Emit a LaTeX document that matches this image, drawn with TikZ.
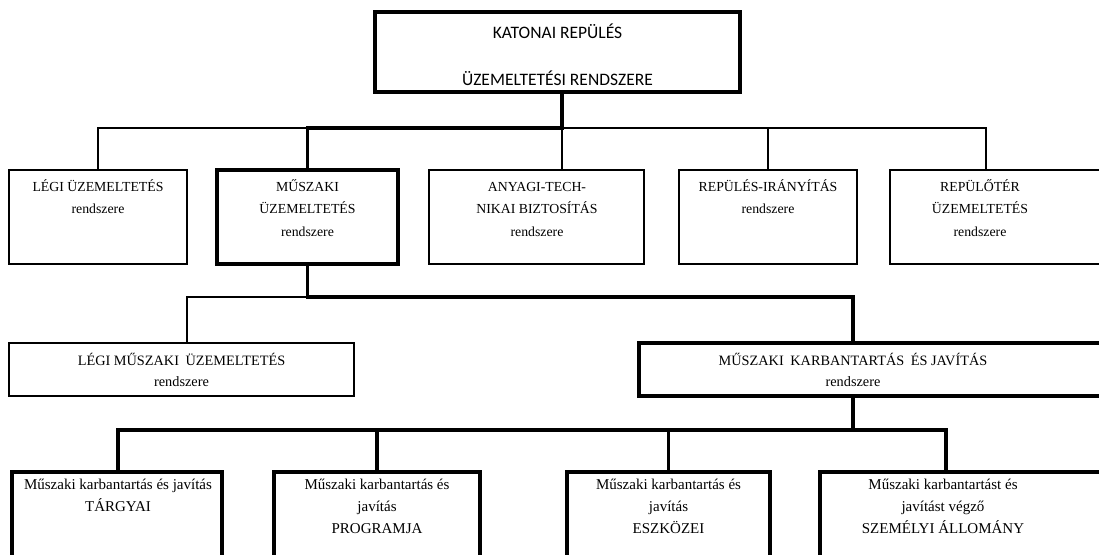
\documentclass[tikz,border=0pt]{standalone}
\usepackage{fontspec}
\setmainfont{Liberation Serif}
\newfontfamily\calibrifont{Carlito}
\begin{document}
\begin{tikzpicture}[x=1pt,y=-1pt,
  thinline/.style={line width=1.2pt},
  thickline/.style={line width=3.8pt},
  thinbox/.style={draw,thinline,inner sep=0pt,outer sep=0pt},
  thickbox/.style={draw,thickline,inner sep=0pt,outer sep=0pt},
  toptxt/.style={align=center,anchor=base,inner sep=0pt,font=\calibrifont\fontsize{17.5}{47}\selectfont},
  rowtwo/.style={align=center,anchor=base,inner sep=0pt,font=\fontsize{13.8}{22.5}\selectfont},
  rowthree/.style={align=center,anchor=base,inner sep=0pt,font=\fontsize{14.3}{21}\selectfont},
  rowfour/.style={align=center,anchor=base,inner sep=0pt,font=\fontsize{15}{22}\selectfont}]
\useasboundingbox (0,0) rectangle (1099,554);
\clip (0,0) rectangle (1099,554);

% boxes
\node[thickbox,minimum width=365pt,minimum height=80pt] (top) at (557.5,52) {};
\node[thinbox,minimum width=178pt,minimum height=94pt] (b1) at (98,217) {};
\node[thickbox,minimum width=181pt,minimum height=94pt] (b2) at (307.5,217) {};
\node[thinbox,minimum width=215pt,minimum height=94pt] (b3) at (536.5,217) {};
\node[thinbox,minimum width=178pt,minimum height=94pt] (b4) at (768,217) {};
\node[thinbox,minimum width=220pt,minimum height=94pt] (b5) at (1000,217) {};
\node[thinbox,minimum width=345pt,minimum height=53pt] (r1) at (181.5,369.5) {};
\node[thickbox,minimum width=471pt,minimum height=53pt] (r2) at (874.5,369.5) {};
\node[thickbox,minimum width=210pt,minimum height=98pt] (c1) at (117,521) {};
\node[thickbox,minimum width=206pt,minimum height=98pt] (c2) at (377,521) {};
\node[thickbox,minimum width=203pt,minimum height=98pt] (c3) at (668.5,521) {};
\node[thickbox,minimum width=290pt,minimum height=98pt] (c4) at (965,521) {};

% texts (anchor = baseline of last line)
\node[toptxt] (ttop) at (557.5,85) {KATONAI REPÜLÉS\\ÜZEMELTETÉSI RENDSZERE};
\node[rowtwo] (t1) at (98,213.5) {LÉGI ÜZEMELTETÉS\\rendszere};
\node[rowtwo] (t2) at (307.5,236) {MŰSZAKI\\ÜZEMELTETÉS\\rendszere};
\node[rowtwo] (t3) at (537,236) {ANYAGI-TECH-\\NIKAI BIZTOSÍTÁS\\rendszere};
\node[rowtwo] (t4) at (768,213.5) {REPÜLÉS-IRÁNYÍTÁS\\rendszere};
\node[rowtwo] (t5) at (980,236) {REPÜLŐTÉR\\ÜZEMELTETÉS\\rendszere};
\node[rowthree] (s1) at (181.5,386) {LÉGI MŰSZAKI\hspace{3pt} ÜZEMELTETÉS\\rendszere};
\node[rowthree] (s2) at (853,386) {MŰSZAKI\hspace{3pt} KARBANTARTÁS\hspace{3pt} ÉS JAVÍTÁS\\rendszere};
\node[rowfour] (u1) at (118,511) {Műszaki karbantartás és javítás\\TÁRGYAI};
\node[rowfour] (u2) at (377,533) {Műszaki karbantartás és\\javítás\\PROGRAMJA};
\node[rowfour] (u3) at (668.5,533) {Műszaki karbantartás és\\javítás\\ESZKÖZEI};
\node[rowfour] (u4) at (943,533) {Műszaki karbantartást és\\javítást végző\\SZEMÉLYI ÁLLOMÁNY};

% junctions
\coordinate (j1) at (562,128);
\coordinate (j5) at (986,128);
\coordinate (j2) at (308,297);
\coordinate (j3) at (853,297);
\coordinate (j4) at (187,297);
\coordinate (k) at (853,430);
\coordinate (kL) at (118,430);
\coordinate (kR) at (946,430);

% thin connectors
\draw[thinline] (b1.north) |- (j1);
\draw[thinline] (j1) -- (j5) -- (j5 |- b5.north);
\draw[thinline] (j1) -- (j1 |- b3.north);
\draw[thinline] (b4.north |- j1) -- (b4.north);
\draw[thinline] (j2) -- (j4) -- (j4 |- r1.north);

% thick connectors
\draw[thickline] (top.south -| j1) -- (j1) -| (b2.north);
\draw[thickline] (b2.south) |- (j3) -- (j3 |- r2.north);
\draw[thickline] (r2.south -| k) -- (k);
\draw[thickline] (kL |- c1.north) -- (kL) -- (kR) -- (kR |- c4.north);
\draw[thickline] (c2.north |- k) -- (c2.north);
\draw[thickline] (c3.north |- k) -- (c3.north);
\end{tikzpicture}
\end{document}
